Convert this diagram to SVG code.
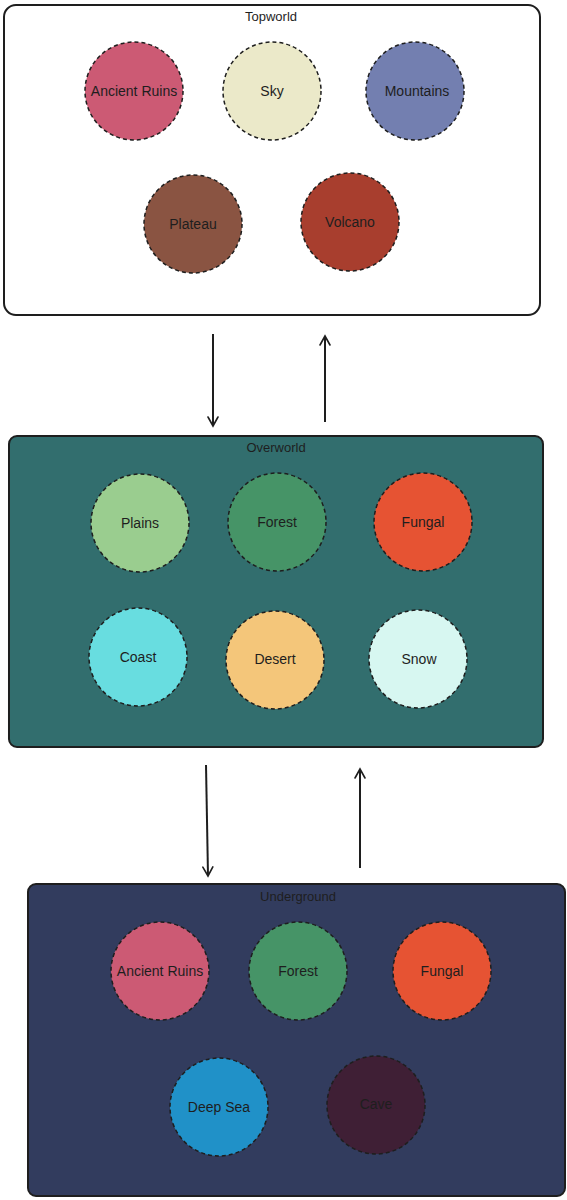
<svg xmlns="http://www.w3.org/2000/svg" width="567" height="1200" viewBox="0 0 567 1200">
<defs>
<marker id="ah" viewBox="0 0 12 12" refX="10" refY="6" markerWidth="12" markerHeight="12" markerUnits="userSpaceOnUse" orient="auto">
<path d="M1,1 L10,6 L1,11" fill="none" stroke="#1e1e1e" stroke-width="1.6" stroke-linecap="round"/>
</marker>
</defs>
<style>
.box{stroke:#1e1e1e;stroke-width:2}
.c{stroke:#1e1e1e;stroke-width:1.5;stroke-dasharray:4 3}
.t{font-family:"Liberation Sans",Arial,sans-serif;font-size:14px;fill:#1e1e1e;text-anchor:middle;dominant-baseline:central}
.h{font-family:"Liberation Sans",Arial,sans-serif;font-size:13px;fill:#1e1e1e;text-anchor:middle;dominant-baseline:central}
.ar{stroke:#1e1e1e;stroke-width:2;fill:none;marker-end:url(#ah)}
</style>
<rect width="567" height="1200" fill="#ffffff"/>
<g id="topworld">
<rect class="box" x="4" y="5" width="536" height="310" rx="12" fill="#ffffff"/>
<text class="h" x="271" y="16">Topworld</text>
</g>
<g id="top-ancient-ruins"><circle class="c" cx="134" cy="91" r="49" fill="#cc5a74"/><text class="t" x="134" y="91">Ancient Ruins</text></g>
<g id="top-sky"><circle class="c" cx="272" cy="91" r="49" fill="#ebe9c9"/><text class="t" x="272" y="91">Sky</text></g>
<g id="top-mountains"><circle class="c" cx="415" cy="91" r="49" fill="#737fb0"/><text class="t" x="417" y="91">Mountains</text></g>
<g id="top-plateau"><circle class="c" cx="193" cy="224" r="49" fill="#8a5442"/><text class="t" x="193" y="224">Plateau</text></g>
<g id="top-volcano"><circle class="c" cx="350" cy="222" r="49" fill="#a83e2e"/><text class="t" x="350" y="222">Volcano</text></g>

<g id="overworld">
<rect class="box" x="9" y="436" width="534" height="311" rx="8" fill="#326e6e"/>
<text class="h" x="276" y="447">Overworld</text>
</g>
<g id="over-plains"><circle class="c" cx="140" cy="523" r="49" fill="#9acd8f"/><text class="t" x="140" y="523">Plains</text></g>
<g id="over-forest"><circle class="c" cx="277" cy="522" r="49" fill="#469467"/><text class="t" x="277" y="522">Forest</text></g>
<g id="over-fungal"><circle class="c" cx="423" cy="522" r="49" fill="#e65333"/><text class="t" x="423" y="522">Fungal</text></g>
<g id="over-coast"><circle class="c" cx="138" cy="657" r="49" fill="#68dde0"/><text class="t" x="138" y="657">Coast</text></g>
<g id="over-desert"><circle class="c" cx="275" cy="660" r="49" fill="#f4c67a"/><text class="t" x="275" y="659">Desert</text></g>
<g id="over-snow"><circle class="c" cx="418" cy="659" r="49" fill="#d7f7f1"/><text class="t" x="419" y="659">Snow</text></g>

<g id="underground">
<rect class="box" x="28" y="884" width="537" height="312" rx="8" fill="#323c5e"/>
<text class="h" x="298" y="896">Underground</text>
</g>
<g id="under-ancient-ruins"><circle class="c" cx="160" cy="971" r="49" fill="#cc5a74"/><text class="t" x="160" y="971">Ancient Ruins</text></g>
<g id="under-forest"><circle class="c" cx="298" cy="971" r="49" fill="#469467"/><text class="t" x="298" y="971">Forest</text></g>
<g id="under-fungal"><circle class="c" cx="442" cy="971" r="49" fill="#e65333"/><text class="t" x="442" y="971">Fungal</text></g>
<g id="under-deep-sea"><circle class="c" cx="219" cy="1107" r="49" fill="#2091c8"/><text class="t" x="219" y="1107">Deep Sea</text></g>
<g id="under-cave"><circle class="c" cx="376" cy="1105" r="49" fill="#3f1f35"/><text class="t" x="376" y="1104">Cave</text></g>

<g id="connectors">
<path class="ar" d="M213,334 L213,426"/>
<path class="ar" d="M325,422 L325,336"/>
<path class="ar" d="M206,765 L208,876"/>
<path class="ar" d="M360,868 L360,769"/>
</g>
</svg>
